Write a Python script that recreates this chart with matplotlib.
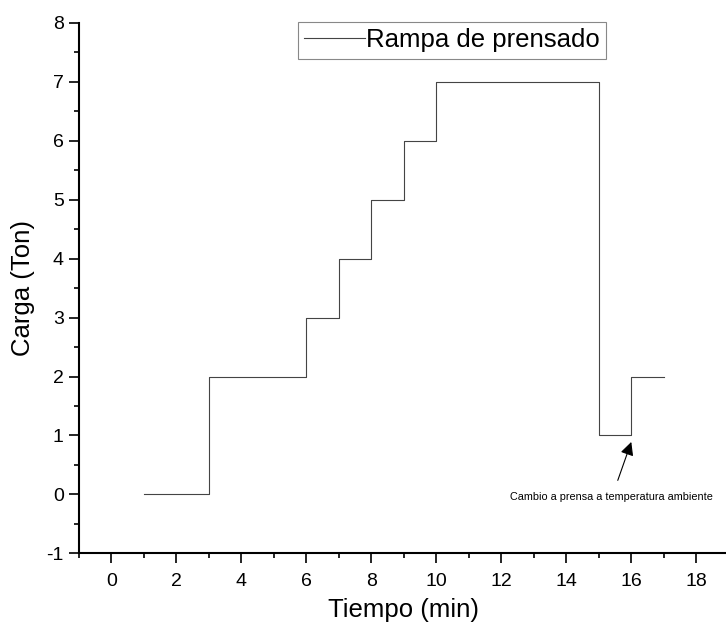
import matplotlib
matplotlib.use("Agg")
import matplotlib.pyplot as plt
from matplotlib.ticker import MultipleLocator

# step profile of the pressing ramp
tiempo = [1, 3, 3, 6, 6, 7, 7, 8, 8, 9, 9, 10, 10, 15, 15, 16, 16, 17]
carga = [0, 0, 2, 2, 3, 3, 4, 4, 5, 5, 6, 6, 7, 7, 1, 1, 2, 2]

serie = "Rampa de prensado"
nota = "Cambio a prensa a temperatura ambiente"

plt.rcParams['font.family'] = ['Liberation Sans', 'DejaVu Sans']
plt.rcParams['axes.unicode_minus'] = False

fig = plt.figure(figsize=(7.26, 6.33), dpi=100)
ax = fig.add_axes([0.1088, 0.1259, 0.895, 0.8378])

ax.plot(tiempo, carga, color='#444444', lw=0.8, label=serie)

ax.set_xlim(-1, 19)
ax.set_ylim(-1, 8)
ax.xaxis.set_major_locator(MultipleLocator(2))
ax.xaxis.set_minor_locator(MultipleLocator(1))
ax.yaxis.set_major_locator(MultipleLocator(1))
ax.yaxis.set_minor_locator(MultipleLocator(0.5))

for s in ['top', 'right']:
    ax.spines[s].set_visible(False)
for s in ['left', 'bottom']:
    ax.spines[s].set_linewidth(1.5)

ax.tick_params(which='major', direction='out', length=7, width=1.2, labelsize=14)
ax.tick_params(which='minor', direction='out', length=3.5, width=1.2)
ax.tick_params(axis='x', which='major', pad=7)
ax.tick_params(axis='y', which='major', pad=4)
ax.set_xticks([t for t in range(0, 19, 2)])

ax.set_xlabel("Tiempo (min)", fontsize=18.5, labelpad=6)
ax.set_ylabel("Carga (Ton)", fontsize=18.5, labelpad=8)

ax.annotate(nota, xy=(16, 0.89), xytext=(15.4, -0.05),
            fontsize=7.8, ha='center', va='center',
            arrowprops=dict(arrowstyle='-|>', color='black', lw=0.8,
                            shrinkA=7, shrinkB=0, mutation_scale=20))

leg = ax.legend(loc='upper left', bbox_to_anchor=(0.4105, 0.9652),
                bbox_transform=fig.transFigure, borderaxespad=0,
                fontsize=18.5, handlelength=2.35, handletextpad=0.05,
                borderpad=0.25, fancybox=False, framealpha=1)
leg.get_frame().set_edgecolor('#888888')
leg.get_frame().set_linewidth(0.8)

fig.savefig("out.png", dpi=100)
